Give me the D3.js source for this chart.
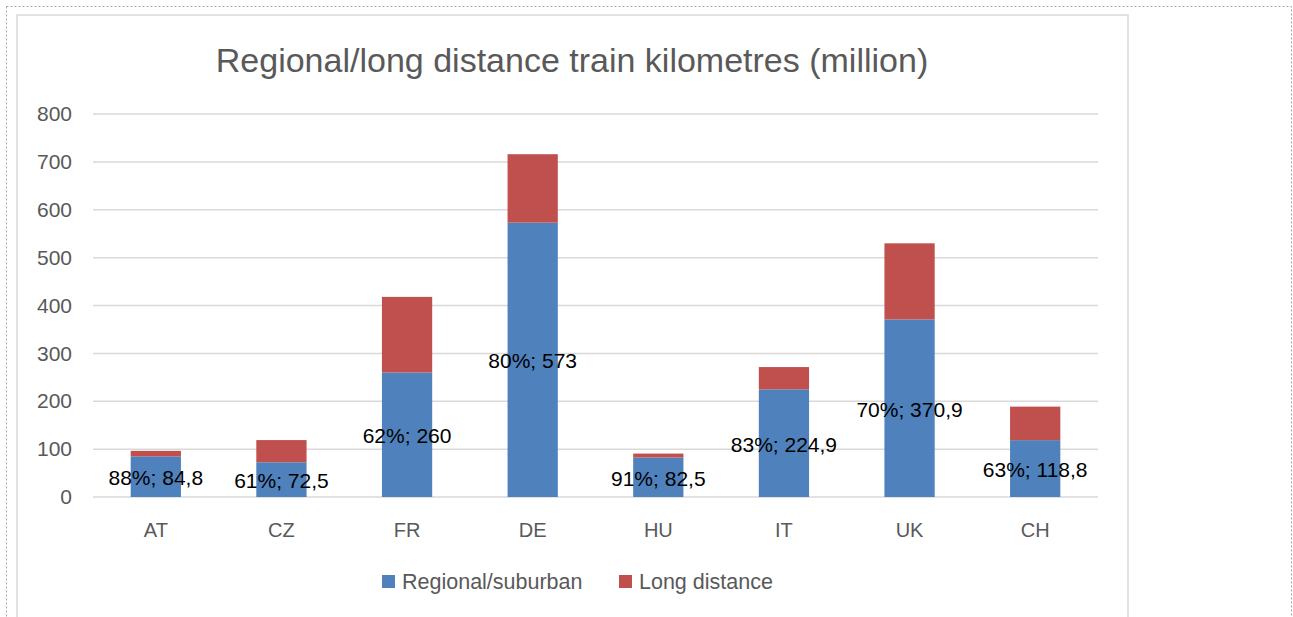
<!DOCTYPE html>
<html>
<head>
<meta charset="utf-8">
<script src="https://cdn.jsdelivr.net/npm/d3@7"></script>
<style>
  body { margin: 0; background: #fff; }
  svg { display: block; font-family: "Liberation Sans", Arial, sans-serif; }
</style>
</head>
<body>
<svg id="chart" width="1293" height="617"></svg>
<script>
const countries = ['AT', 'CZ', 'FR', 'DE', 'HU', 'IT', 'UK', 'CH'];
const regional = [84.8, 72.5, 260, 573, 82.5, 224.9, 370.9, 118.8];
const longDistance = [11.6, 46.4, 158, 143, 8.2, 46.5, 159, 70];
const shareLabels = ['88%', '61%', '62%', '80%', '91%', '83%', '70%', '63%'];
const valueLabels = ['84,8', '72,5', '260', '573', '82,5', '224,9', '370,9', '118,8'];
const yTicks = [0, 100, 200, 300, 400, 500, 600, 700, 800];
const seriesNames = ['Regional/suburban', 'Long distance'];
const colors = ['#4F81BD', '#C0504D'];

const svg = d3.select('#chart');

// outer dotted frame and chart area border
svg.append('rect')
  .attr('x', 6.5).attr('y', 6.5).attr('width', 1285).attr('height', 620)
  .attr('fill', 'none').attr('stroke', '#a6a6a6').attr('stroke-dasharray', '2,2');
svg.append('rect')
  .attr('x', 17).attr('y', 15).attr('width', 1111).attr('height', 620)
  .attr('fill', '#fff').attr('stroke', '#d9d9d9').attr('stroke-width', 1.5);

const x = d3.scaleBand().domain(countries).range([93, 1098]).paddingInner(0.6).paddingOuter(0.3);
const y = d3.scaleLinear().domain([0, 800]).range([497, 114]);

svg.append('text')
  .attr('x', 572).attr('y', 72)
  .attr('text-anchor', 'middle')
  .attr('font-size', 34).attr('fill', '#595959')
  .text('Regional/long distance train kilometres (million)');

// gridlines
svg.append('g').selectAll('line')
  .data(yTicks)
  .join('line')
  .attr('x1', 93).attr('x2', 1098)
  .attr('y1', d => y(d)).attr('y2', d => y(d))
  .attr('stroke', '#d9d9d9').attr('stroke-width', 1.5);

const yAxis = svg.append('g')
  .attr('transform', 'translate(72,0)')
  .call(d3.axisLeft(y).tickValues(yTicks).tickSize(0).tickPadding(0));
yAxis.select('.domain').remove();
yAxis.selectAll('text').attr('font-size', 21).attr('fill', '#595959').attr('font-family', null);

const xAxis = svg.append('g')
  .attr('transform', 'translate(0,497)')
  .call(d3.axisBottom(x).tickSize(0).tickPadding(26));
xAxis.select('.domain').remove();
xAxis.selectAll('text').attr('font-size', 20).attr('fill', '#595959').attr('font-family', null);

const rows = countries.map((c, i) => ({ c, r: regional[i], l: longDistance[i], share: shareLabels[i], v: valueLabels[i] }));

svg.append('g').selectAll('rect')
  .data(rows)
  .join('rect')
  .attr('x', d => x(d.c)).attr('width', x.bandwidth())
  .attr('y', d => y(d.r)).attr('height', d => y(0) - y(d.r))
  .attr('fill', colors[0]);

svg.append('g').selectAll('rect')
  .data(rows)
  .join('rect')
  .attr('x', d => x(d.c)).attr('width', x.bandwidth())
  .attr('y', d => y(d.r + d.l)).attr('height', d => y(d.r) - y(d.r + d.l))
  .attr('fill', colors[1]);

svg.append('g').selectAll('text')
  .data(rows)
  .join('text')
  .attr('x', d => x(d.c) + x.bandwidth() / 2)
  .attr('y', d => (y(0) + y(d.r)) / 2 + 1)
  .attr('dy', '0.35em')
  .attr('text-anchor', 'middle')
  .attr('font-size', 21).attr('fill', '#000')
  .text(d => d.share + '; ' + d.v);

// legend
const legendX = [382, 619];
const legend = svg.append('g').selectAll('g')
  .data(seriesNames)
  .join('g')
  .attr('transform', (d, i) => `translate(${legendX[i]},575)`);
legend.append('rect').attr('width', 13).attr('height', 13).attr('fill', (d, i) => colors[i]);
legend.append('text')
  .attr('x', 20).attr('y', 6.5).attr('dy', '0.35em')
  .attr('font-size', 21.5).attr('fill', '#595959')
  .text(d => d);
</script>
</body>
</html>
